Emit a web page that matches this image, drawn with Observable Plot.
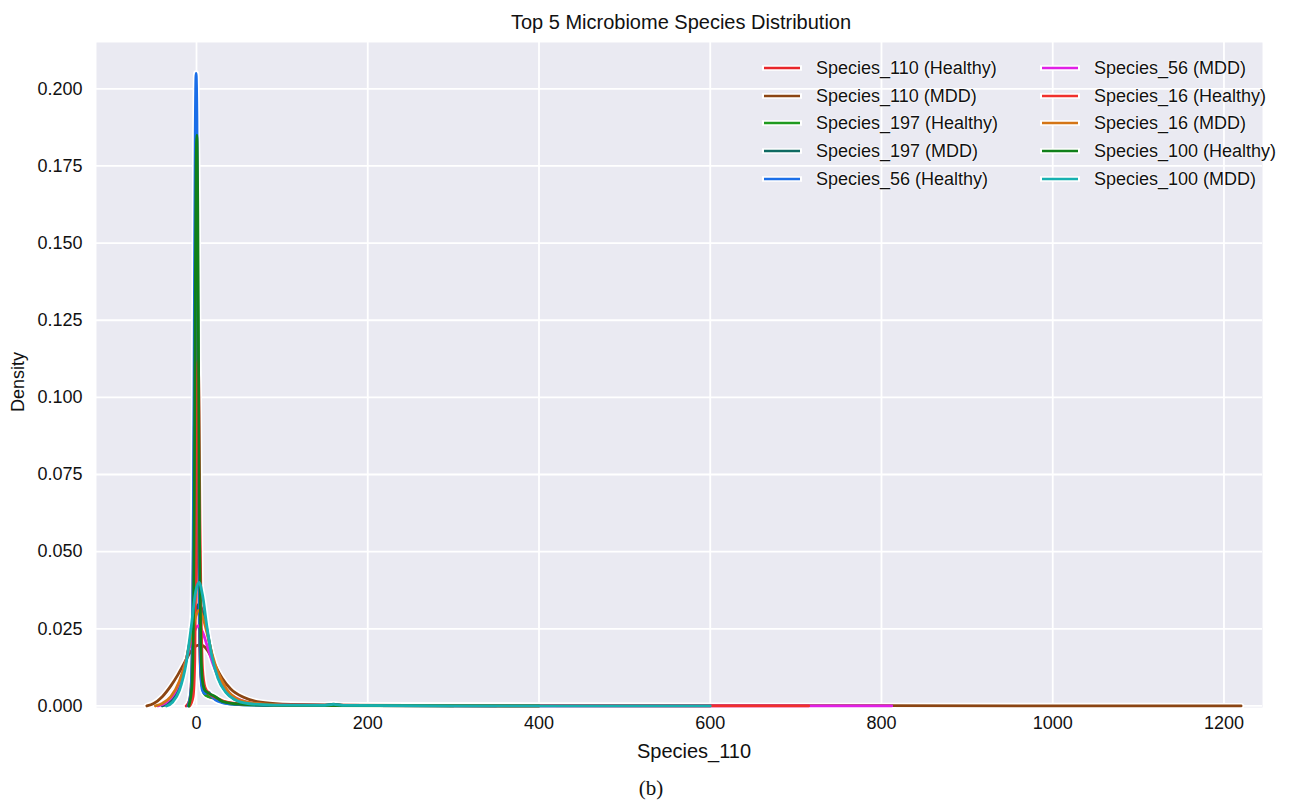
<!DOCTYPE html>
<html><head><meta charset="utf-8">
<script src="https://cdn.jsdelivr.net/npm/d3@7"></script>
<script src="https://cdn.jsdelivr.net/npm/@observablehq/plot@0.6"></script>
<style>
body{margin:0;background:#fff;font-family:"Liberation Sans",Arial,sans-serif;}
#wrap{position:relative;width:1293px;height:803px;}
.t{position:absolute;color:#111;white-space:nowrap;line-height:1;}
.lg{position:absolute;display:flex;align-items:center;font-size:18px;color:#111;white-space:nowrap;text-shadow:0 0 2px #fff,0 0 2px #fff,0 0 1px #fff;}
.lg svg{margin-right:14px;}
</style></head><body><div id="wrap"></div>
<script>
// ---- data ----
const seriesNames = [
  "Species_110 (Healthy)", "Species_110 (MDD)",
  "Species_197 (Healthy)", "Species_197 (MDD)",
  "Species_56 (Healthy)", "Species_56 (MDD)",
  "Species_16 (Healthy)", "Species_16 (MDD)",
  "Species_100 (Healthy)", "Species_100 (MDD)"
];
const seriesColors = [
  "#e8262b", "#8b4513",
  "#1f9a1f", "#0f6a62",
  "#1a6ee8", "#e020e6",
  "#f0302c", "#d47516",
  "#11801a", "#17b0b0"
];
const s110_Healthy = [[-12,0],[-8,0.002],[-6,0.008],[-4.5,0.025],[-3,0.07],[-2,0.11],[-1,0.125],[0,0.115],[1,0.085],[2,0.05],[3.5,0.022],[5,0.01],[8,0.005],[12,0.0035],[20,0.0025],[30,0.0015],[50,0.0006],[100,0.0003],[200,0.0002],[400,0]];
const s110_MDD = [[-58,0],[-50,0.0008],[-40,0.003],[-30,0.0065],[-22,0.01],[-14,0.014],[-7,0.0175],[0,0.0195],[5,0.0198],[10,0.019],[16,0.0165],[22,0.013],[30,0.009],[40,0.0055],[55,0.0028],[75,0.0012],[100,0.0006],[150,0.0003],[250,0.0002],[400,0.0001],[600,0.0001],[800,0.00008],[1000,0.00005],[1220,0.00002]];
const s197_Healthy = [[-9,0],[-6,0.006],[-4,0.03],[-3,0.07],[-2,0.12],[-1,0.158],[0,0.168],[1,0.145],[2,0.1],[3,0.055],[4,0.025],[6,0.008],[9,0.004],[14,0.003],[22,0.0025],[30,0.0012],[45,0.0005],[80,0.0002],[150,0.0001],[300,0]];
const s197_MDD = [[-40,0],[-32,0.001],[-24,0.004],[-16,0.01],[-9,0.019],[-3,0.028],[3,0.033],[8,0.03],[14,0.022],[20,0.014],[28,0.0075],[38,0.0035],[50,0.0015],[70,0.0006],[100,0.0003],[150,0.0003],[160,0.0006],[172,0.0002],[400,0.00005],[600,0]];
const s56_Healthy = [[-10,0],[-6.5,0.005],[-4.5,0.03],[-3.5,0.07],[-2.5,0.13],[-1.5,0.185],[-0.5,0.205],[0.5,0.19],[1.5,0.13],[2.5,0.07],[3.5,0.03],[5,0.01],[7,0.005],[10,0.004],[14,0.0045],[18,0.003],[25,0.0015],[40,0.0006],[80,0.0002],[200,0.0001],[350,0]];
const s56_MDD = [[-45,0],[-36,0.001],[-26,0.004],[-17,0.01],[-10,0.017],[-4,0.023],[2,0.026],[7,0.024],[13,0.019],[20,0.013],[28,0.008],[38,0.0042],[52,0.0018],[70,0.0007],[100,0.0003],[200,0.0001],[500,0.00005],[812,0]];
const s16_Healthy = [[-8,0],[-4,0.003],[-2,0.015],[-1,0.04],[0,0.08],[1,0.105],[2,0.112],[3,0.095],[4,0.06],[5.5,0.028],[7,0.012],[10,0.006],[15,0.004],[22,0.0028],[32,0.0015],[50,0.0007],[100,0.0003],[200,0.00015],[400,0.0001],[600,0.00005],[715,0]];
const s16_MDD = [[-48,0],[-40,0.0008],[-30,0.003],[-20,0.008],[-12,0.015],[-6,0.023],[-1,0.029],[3,0.031],[7,0.029],[12,0.024],[18,0.017],[25,0.011],[35,0.0055],[50,0.002],[70,0.0008],[100,0.0003],[200,0.0001],[400,0]];
const s100_Healthy = [[-9,0],[-5.5,0.006],[-3.5,0.03],[-2.5,0.07],[-1.5,0.13],[-0.5,0.175],[0.5,0.185],[1.5,0.16],[2.5,0.105],[3.5,0.055],[5,0.02],[7,0.008],[10,0.005],[15,0.004],[22,0.003],[30,0.0015],[50,0.0006],[100,0.0002],[200,0.0001],[400,0]];
const s100_MDD = [[-35,0],[-28,0.0012],[-20,0.005],[-12,0.014],[-6,0.026],[-1,0.037],[3,0.04],[7,0.036],[12,0.026],[18,0.016],[25,0.009],[34,0.0045],[45,0.002],[60,0.0008],[90,0.0003],[150,0.0002],[160,0.0005],[170,0.0002],[300,0.00005],[450,0.00003],[600,0]];
const seriesData = [s110_Healthy, s110_MDD, s197_Healthy, s197_MDD, s56_Healthy, s56_MDD, s16_Healthy, s16_MDD, s100_Healthy, s100_MDD];

const xTicks = [0, 200, 400, 600, 800, 1000, 1200];
const yTicks = [0, 0.025, 0.05, 0.075, 0.1, 0.125, 0.15, 0.175, 0.2];
const titleText = "Top 5 Microbiome Species Distribution";
const xLabel = "Species_110";
const yLabel = "Density";
const caption = "(b)";

// ---- build ----
const rows = [];
seriesData.forEach((arr, i) => arr.forEach(([x, y]) => rows.push({series: seriesNames[i], x, y})));

const wrap = document.getElementById("wrap");
const chart = Plot.plot({
  width: 1293, height: 803,
  marginLeft: 96, marginRight: 31, marginTop: 42, marginBottom: 96,
  x: {domain: [-116.8, 1245]},
  y: {domain: [-0.0005, 0.215]},
  color: {domain: seriesNames, range: seriesColors},
  style: {fontFamily: "'Liberation Sans', Arial, sans-serif", fontSize: "18px", color: "#111", background: "transparent"},
  marks: [
    Plot.frame({fill: "#eaeaf2", stroke: null}),
    Plot.gridX(xTicks, {stroke: "#fff", strokeOpacity: 1, strokeWidth: 1.8}),
    Plot.gridY(yTicks, {stroke: "#fff", strokeOpacity: 1, strokeWidth: 1.8}),
    Plot.axisX(xTicks, {tickSize: 0, tickPadding: 9, tickFormat: d3.format("d"), label: null}),
    Plot.axisY(yTicks, {tickSize: 0, tickPadding: 14, tickFormat: d3.format(".3f"), label: null}),
    Plot.line(rows, {x: "x", y: "y", z: "series", stroke: "white", strokeWidth: 6, curve: "monotone-x"}),
    Plot.line(rows, {x: "x", y: "y", z: "series", stroke: "series", strokeWidth: 2.8, curve: "monotone-x"})
  ]
});
chart.style.position = "absolute";
chart.style.left = "0px";
chart.style.top = "0px";
wrap.appendChild(chart);

function addText(txt, css) {
  const d = document.createElement("div");
  d.className = "t";
  d.textContent = txt;
  Object.assign(d.style, css);
  wrap.appendChild(d);
  return d;
}
addText(titleText, {left: "681px", top: "12px", fontSize: "20px", transform: "translateX(-50%)"});
addText(xLabel, {left: "694px", top: "741px", fontSize: "20px", transform: "translateX(-50%)"});
addText(yLabel, {left: "18px", top: "382px", fontSize: "18px", transform: "translate(-50%,-50%) rotate(-90deg)"});
addText(caption, {left: "651px", top: "778px", fontSize: "21px", fontFamily: "'Liberation Serif', 'Times New Roman', serif", transform: "translateX(-50%)"});

// legend (two columns, five rows)
const legendCols = [762, 1040];
const legendRows = [68, 96, 123, 151, 179];
seriesNames.forEach((name, i) => {
  const col = Math.floor(i / 5), row = i % 5;
  const d = document.createElement("div");
  d.className = "lg";
  d.style.left = legendCols[col] + "px";
  d.style.top = (legendRows[row] - 11) + "px";
  d.style.height = "22px";
  const ns = "http://www.w3.org/2000/svg";
  const s = document.createElementNS(ns, "svg");
  s.setAttribute("width", "40"); s.setAttribute("height", "10");
  const halo = document.createElementNS(ns, "line");
  halo.setAttribute("x1", "1"); halo.setAttribute("x2", "39"); halo.setAttribute("y1", "5"); halo.setAttribute("y2", "5");
  halo.setAttribute("stroke", "#fff"); halo.setAttribute("stroke-width", "5.5"); halo.setAttribute("stroke-linecap", "round");
  const ln = document.createElementNS(ns, "line");
  ln.setAttribute("x1", "2"); ln.setAttribute("x2", "38"); ln.setAttribute("y1", "5"); ln.setAttribute("y2", "5");
  ln.setAttribute("stroke", seriesColors[i]); ln.setAttribute("stroke-width", "2.5");
  s.appendChild(halo); s.appendChild(ln);
  d.appendChild(s);
  const sp = document.createElement("span");
  sp.textContent = name;
  d.appendChild(sp);
  wrap.appendChild(d);
});
</script>
</body></html>
